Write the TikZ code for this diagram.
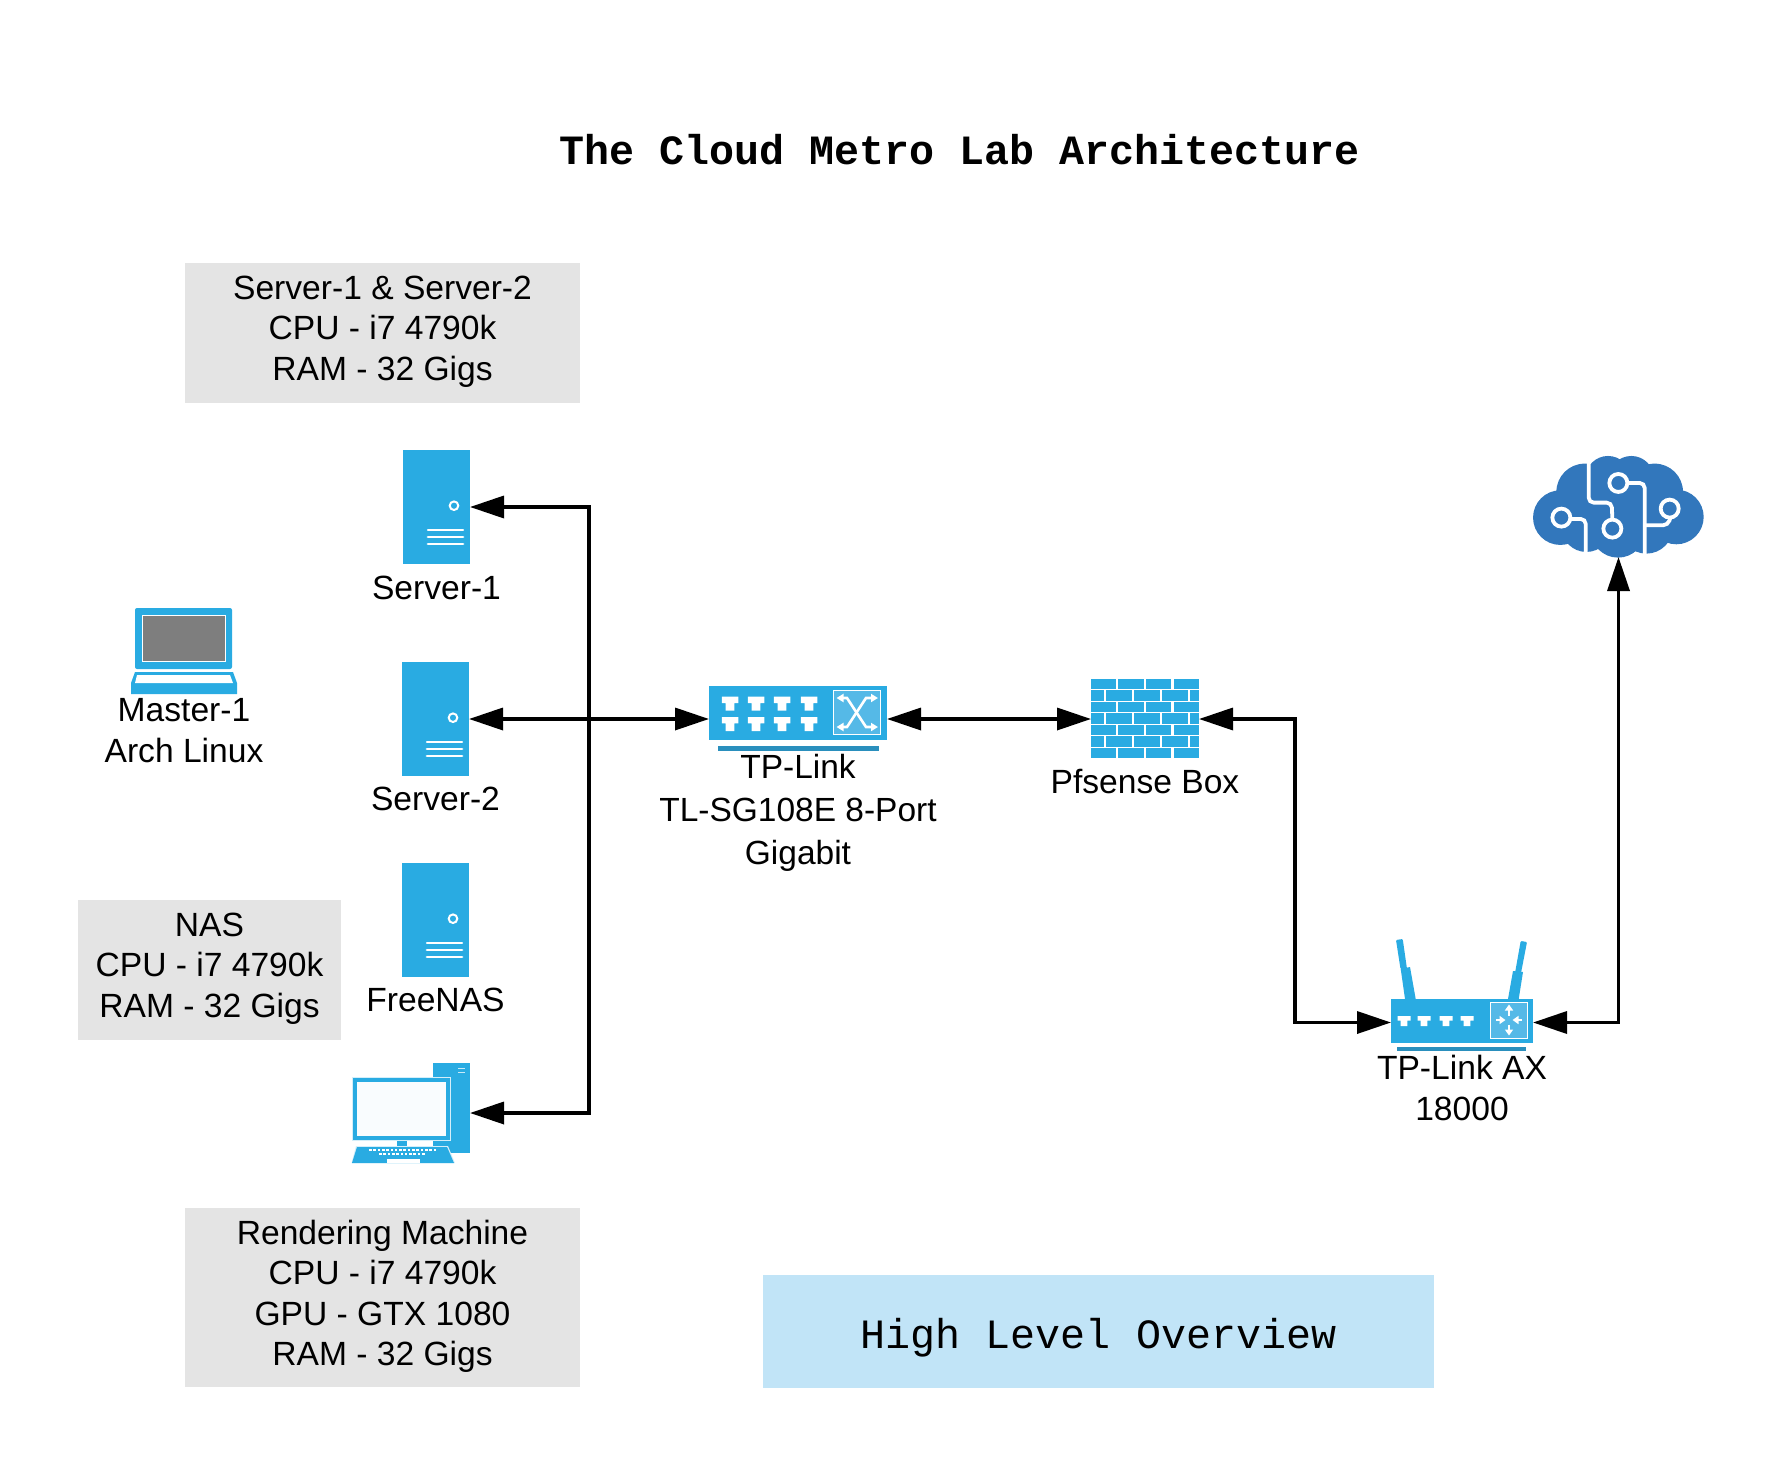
\documentclass[tikz,border=0pt]{standalone}
\usepackage{fontspec}
\setmainfont{Liberation Sans}
\newfontfamily\labmono{Liberation Mono}
\usetikzlibrary{arrows.meta, calc, positioning}
\definecolor{iconblue}{HTML}{29ABE2}
\definecolor{panelblue}{HTML}{55B9E7}
\definecolor{barblue}{HTML}{2A8FBD}
\definecolor{cloudblue}{HTML}{3277BC}
\definecolor{specgray}{HTML}{E4E4E4}
\definecolor{noteblue}{HTML}{C1E4F7}
\newcommand{\specdrop}{\rule[-9.5pt]{0pt}{0pt}}
\tikzstyle{labeltext} = [inner sep=0pt, align=center, font=\fontsize{33.6}{40.3}\selectfont]
\tikzstyle{specbox} = [rectangle, fill=specgray, inner sep=0pt, align=center, font=\fontsize{33.6}{40.3}\selectfont, execute at end node=\specdrop]
\tikzstyle{server} = [rectangle, fill=iconblue, inner sep=0pt, outer sep=0pt, minimum width=67pt, minimum height=114pt]
\tikzstyle{icon} = [rectangle, inner sep=0pt, outer sep=0pt]
\tikzstyle{arrow} = [line width=3.5pt, {Triangle[length=34pt,width=22pt]}-{Triangle[length=34pt,width=22pt]}]
\tikzstyle{flow} = [line width=2.6pt, white, {Triangle[length=7pt,width=8pt]}-{Triangle[length=7pt,width=8pt]}]
\tikzstyle{pointer} = [line width=2.8pt, white, -{Triangle[length=6pt,width=8pt]}]
\newcommand{\portTee}[4]{% x, top, width, height
	\fill[white] (#1-#3/2,#2) -- ++(#3,0) -- ++(0,#4*0.45) -- ++(-#3*0.24,0) -- ++(0,#4*0.55) -- ++(-#3*0.52,0) -- ++(0,-#4*0.55) -- ++(-#3*0.24,0) -- cycle;
}
\begin{document}
\begin{tikzpicture}[x=1pt, y=-1pt]
		\useasboundingbox (0,0) rectangle (1781,1463);
		\node (Title) [inner sep=0pt] at (959.5,150) {\fontsize{41.65}{48}\selectfont\labmono\bfseries The Cloud Metro Lab Architecture};
		\node (ServerSpec) [specbox, minimum width=395pt, minimum height=140pt] at (382.5,333) {Server-1 \& Server-2\\CPU - i7 4790k\\RAM - 32 Gigs};
		\node (NasSpec) [specbox, minimum width=263pt, minimum height=140pt] at (209.5,970) {NAS\\CPU - i7 4790k\\RAM - 32 Gigs};
		\node (RenderSpec) [specbox, minimum width=395pt, minimum height=179pt] at (382.5,1297.5) {Rendering Machine\\CPU - i7 4790k\\GPU - GTX 1080\\RAM - 32 Gigs};
		\node (Overview) [rectangle, fill=noteblue, inner sep=0pt, minimum width=671pt, minimum height=113pt, text height=42pt, text depth=8.8pt] at (1098.5,1331.5) {\fontsize{41.7}{48}\selectfont\labmono High Level Overview};
		\node (Server1) [server] at (436.5,507) {};
		\node (Server2) [server] at (435.5,719) {};
		\node (FreeNAS) [server] at (435.5,920) {};
		\node (Master1) [icon, minimum width=106pt, minimum height=86pt] at (184,651) {};
		\node (Desktop) [icon, minimum width=118pt, minimum height=100pt] at (411,1113) {};
		\node (SwitchBox) [icon, fill=iconblue, minimum width=178pt, minimum height=54pt] at (798,713) {};
		\node (Firewall) [icon, minimum width=108pt, minimum height=79pt] at (1145,719) {};
		\node (Router) [icon, fill=iconblue, minimum width=142pt, minimum height=44pt] at (1462,1021) {};
		\node (Cloud) [icon, minimum width=171pt, minimum height=101pt] at (1618.5,506.5) {};
		\node (Server1Label) [labeltext, below = 11.5pt of Server1] {Server-1};
		\node (Server2Label) [labeltext, below = 11pt of Server2] {Server-2};
		\node (FreeNASLabel) [labeltext, below = 10.5pt of FreeNAS] {FreeNAS};
		\node (Master1Label) [labeltext, below = 4.5pt of Master1] {Master-1\\Arch Linux};
		\node (SwitchLabel) [labeltext, font=\fontsize{33.5}{43.2}\selectfont, below = 13.7pt of SwitchBox] {TP-Link\\TL-SG108E 8-Port\\Gigabit};
		\node (FirewallLabel) [labeltext, below = 10pt of Firewall] {Pfsense Box};
		\node (RouterLabel) [labeltext, font=\fontsize{33.6}{41}\selectfont, below = 12pt of Router] {TP-Link AX\\18000};
		\coordinate (ServerBus) at (589,719);
		\coordinate (RouterBus) at (1295,719);
		\foreach \n in {Server1,Server2,FreeNAS} {
			\begin{scope}[shift={(\n.north west)}]
				\draw[white, line width=2pt] (51,55.7) circle (4.3);
				\foreach \yy/\ww in {80/2.2,87/2.9,94/2.9} \draw[white, line width=\ww pt, line cap=round] (25,\yy) -- (60,\yy);
			\end{scope}
		}
		\begin{scope}[shift={(Master1.north west)}]
			\fill[iconblue, rounded corners=2pt] (4,0) rectangle (101,61);
			\fill[gray!99!black, draw=white, line width=1pt] (11.5,7) rectangle (94.5,53);
			\fill[iconblue] (4,64) -- (102,64) -- (106,75) -- (106,86) -- (0,86) -- (0,75) -- cycle;
			\fill[white] (6,67) -- (99,67) -- (102,75) -- (4,75) -- cycle;
		\end{scope}
		\begin{scope}[shift={(Desktop.north west)}]
			\fill[iconblue] (80.5,0) rectangle (118,90);
			\foreach \yy in {5,9} \draw[white!75!iconblue, line width=1pt] (106,\yy) -- (113,\yy);
			\fill[white!80!iconblue] (0,14) rectangle (99,78);
			\fill[iconblue] (1,15) rectangle (98,77);
			\fill[white!97!iconblue] (5,19) rectangle (94,73);
			\fill[iconblue] (45,78) rectangle (55,83);
			\fill[white!80!iconblue] (4,83) -- (96,83) -- (103,100) -- (-0.5,100) -- cycle;
			\fill[iconblue] (5,84) -- (95,84) -- (102,100) -- (0,100) -- cycle;
			\foreach \xx in {17,21.3,...,82} \fill[white] (\xx,85.5) rectangle +(2.6,2);
			\foreach \xx in {27,31.3,...,73} \fill[white] (\xx,89.5) rectangle +(2.6,2);
			\fill[white] (35,96) rectangle (67.5,100);
		\end{scope}
		\begin{scope}[shift={(SwitchBox.north west)}]
			\foreach \xx in {21,47,73,100} {
				\portTee{\xx}{10.7}{16.5}{14}
				\portTee{\xx}{31}{16.5}{14}
			}
			\fill[panelblue, draw=white, line width=1pt] (124.7,4.7) rectangle (171.3,48);
			\draw[flow] (127.5,12) -- (138,12) -- (157,41) -- (169,41);
			\draw[flow] (127.5,41) -- (138,41) -- (157,12) -- (169,12);
			\fill[barblue] (9,60) rectangle (170,64.5);
		\end{scope}
		% bricks
		\begin{scope}[shift={([yshift=0.6pt]Firewall.north west)}]
			\foreach \j in {0,2,4,6} \foreach \xx in {0,27.3,55,82.7}
				\fill[iconblue] (\xx,\j*11.5) rectangle +(25.3,10.3);
			\foreach \j in {1,3,5} {
				\fill[iconblue] (0,\j*11.5) rectangle +(12.5,10.3);
				\foreach \xx in {15,43,71} \fill[iconblue] (\xx,\j*11.5) rectangle +(25.5,10.3);
				\fill[iconblue] (99,\j*11.5) rectangle (108,\j*11.5+10.3);
			}
		\end{scope}
		\begin{scope}[shift={(Router.north west)}]
			\foreach \xx in {13,33,55,76} \portTee{\xx}{17}{13}{10}
			\fill[panelblue, draw=white, line width=1pt] (99.3,3.3) rectangle (136.7,39);
			\draw[pointer] (118,16.5) -- (118,5.5);
			\draw[pointer] (118,25.5) -- (118,36.5);
			\draw[pointer] (105,21) -- (114.5,21);
			\draw[pointer] (131,21) -- (121.5,21);
			\fill[iconblue] (14,0) -- (24.7,0) -- (19,-32) -- (9.7,-30) -- cycle;
			\fill[iconblue, rounded corners=1pt] (5,-59) -- (11.7,-60) -- (16,-30) -- (9.5,-30) -- cycle;
			\fill[iconblue] (117,0) -- (127.7,0) -- (132,-27) -- (122,-28) -- cycle;
			\fill[iconblue, rounded corners=1pt] (129.7,-58) -- (136,-57) -- (130,-26) -- (124,-26) -- cycle;
			\fill[barblue] (6,48) rectangle (135,52);
		\end{scope}
		% cloud in units of a third of a pixel
		\begin{scope}[shift={(Cloud.north west)}, shift={(-13.3,-15.7)}, x=0.3333pt, y=-0.3333pt]
			\fill[cloudblue] (122,232) circle (82pt/3*1) (195,155) circle (85pt/3*1) (265,115) circle (68pt/3*1) (335,115) circle (68pt/3*1) (405,155) circle (85pt/3*1) (470,230) circle (82pt/3*1) (295,270) circle (82pt/3*1) (200,260) circle (75pt/3*1) (380,260) circle (80pt/3*1);
			\fill[cloudblue] (180,120) rectangle (420,300);
			\begin{scope}[white, line width=3.8pt, rounded corners=5pt]
				\draw (207,62) -- (207,187) -- (276,187) -- (278,236);
				\draw (324,128) -- (375,128) -- (375,345);
				\draw (452,232) -- (445,255) -- (378,255);
				\draw (154,236) -- (198,236) -- (198,340);
				\draw (278,265) circle (27pt/3*1);
				\draw (296,128) circle (27pt/3*1);
				\draw (450,205) circle (27pt/3*1);
				\draw (125,232) circle (27pt/3*1);
			\end{scope}
		\end{scope}
		\draw [arrow] (Server1.east) -| (ServerBus) |- (Desktop.east);
		\draw [arrow] (Server2.east) -- (Server2.east -| SwitchBox.west);
		\draw [arrow] (Firewall.west -| SwitchBox.east) -- (Firewall.west);
		\draw [arrow] (Firewall.east) -| (RouterBus) |- ([yshift=-1.5pt]Router.west);
		\draw [arrow] ([yshift=-1.5pt]Router.east) -| (Cloud.south);
		\end{tikzpicture}
\end{document}
